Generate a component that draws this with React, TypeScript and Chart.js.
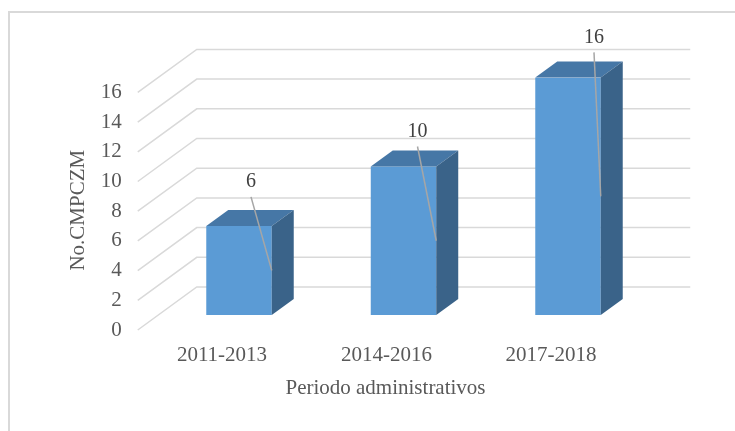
import React, { useEffect, useRef } from "react";
import { Chart, registerables } from "chart.js";

Chart.register(...registerables);

const categories = ["2011-2013", "2014-2016", "2017-2018"];
const values = [6, 10, 16];
const yMin = 0;
const yMax = 16;
const yStep = 2;
const yTitle = "No.CMPCZM";
const xTitle = "Periodo administrativos";

// label placement (style): offset of data label from bar centre / top
const labelShift = [
  [12, -44],
  [14, -35],
  [26, -40],
];

const FONT = "'Liberation Serif', 'Times New Roman', serif";
const TEXT = "#595959";
const GRID = "#D9D9D9";
const FRONT = "#5B9BD5";
const TOP = "#4677A6";
const SIDE = "#3A6389";
const DEPTH_X = 22;
const DEPTH_Y = -16;

const threeD = {
  id: "threeD",
  beforeDatasetsDraw(chart: any) {
    const ctx = chart.ctx;
    const ys = chart.scales.y;
    const area = chart.chartArea;
    ctx.save();
    // outer frame
    ctx.strokeStyle = GRID;
    ctx.lineWidth = 2;
    ctx.beginPath();
    ctx.moveTo(9, 431);
    ctx.lineTo(9, 12);
    ctx.lineTo(735, 12);
    ctx.stroke();
    // back wall grid + floor/side diagonals
    ctx.lineWidth = 1.5;
    ctx.strokeStyle = GRID;
    for (const t of ys.ticks) {
      const yv = ys.getPixelForValue(t.value);
      ctx.beginPath();
      ctx.moveTo(area.left - 19, yv + 15);
      ctx.lineTo(area.left + 40, yv - 28);
      ctx.lineTo(area.right + 40, yv - 28);
      ctx.stroke();
    }
    ctx.restore();
  },
  afterDatasetsDraw(chart: any) {
    const ctx = chart.ctx;
    const meta = chart.getDatasetMeta(0);
    ctx.save();
    meta.data.forEach((bar: any, i: number) => {
      const l = bar.x - bar.width / 2;
      const r = bar.x + bar.width / 2;
      const top = bar.y;
      const base = bar.base;
      // top face
      ctx.fillStyle = TOP;
      ctx.beginPath();
      ctx.moveTo(l, top);
      ctx.lineTo(l + DEPTH_X, top + DEPTH_Y);
      ctx.lineTo(r + DEPTH_X, top + DEPTH_Y);
      ctx.lineTo(r, top);
      ctx.closePath();
      ctx.fill();
      // side face
      ctx.fillStyle = SIDE;
      ctx.beginPath();
      ctx.moveTo(r, top);
      ctx.lineTo(r + DEPTH_X, top + DEPTH_Y);
      ctx.lineTo(r + DEPTH_X, base + DEPTH_Y);
      ctx.lineTo(r, base);
      ctx.closePath();
      ctx.fill();
      // data label + leader line
      const lx = bar.x + labelShift[i][0];
      const ly = top + labelShift[i][1];
      ctx.strokeStyle = "#A6A6A6";
      ctx.lineWidth = 1.5;
      ctx.beginPath();
      ctx.moveTo(lx, ly + 15);
      ctx.lineTo(r, (top + base) / 2);
      ctx.stroke();
      ctx.fillStyle = "#404040";
      ctx.font = `20px ${FONT}`;
      ctx.textAlign = "center";
      ctx.textBaseline = "middle";
      ctx.fillText(String(values[i]), lx, ly);
    });
    // axis titles
    const area = chart.chartArea;
    ctx.fillStyle = TEXT;
    ctx.font = `21px ${FONT}`;
    ctx.textAlign = "center";
    ctx.textBaseline = "middle";
    ctx.fillText(xTitle, (area.left + area.right) / 2 - 18, 388);
    ctx.translate(78, (area.top + area.bottom) / 2 + 14);
    ctx.rotate(-Math.PI / 2);
    ctx.fillText(yTitle, 0, 0);
    ctx.restore();
  },
};

export default function App() {
  const ref = useRef<HTMLCanvasElement | null>(null);
  useEffect(() => {
    if (!ref.current) return;
    const chart = new Chart(ref.current, {
      type: "bar",
      data: {
        labels: categories,
        datasets: [
          {
            data: values,
            backgroundColor: FRONT,
            borderWidth: 0,
            categoryPercentage: 1,
            barPercentage: 0.398,
          },
        ],
      },
      options: {
        responsive: false,
        animation: false,
        events: [],
        layout: { padding: { left: 0, right: 84.75, top: 77.4, bottom: 0 } },
        plugins: {
          legend: { display: false },
          tooltip: { enabled: false },
          title: { display: false },
        },
        scales: {
          x: {
            offset: true,
            grid: { display: false, drawTicks: false },
            border: { display: false },
            ticks: {
              color: TEXT,
              font: { family: FONT, size: 21 },
              padding: 28,
              labelOffset: -17,
              maxRotation: 0,
            },
            afterFit: (s: any) => {
              s.height = 116;
            },
          },
          y: {
            min: yMin,
            max: yMax,
            grid: { display: false, drawTicks: false },
            border: { display: false },
            ticks: {
              stepSize: yStep,
              color: TEXT,
              font: { family: FONT, size: 21 },
              padding: 35,
              labelOffset: 15,
            },
            afterFit: (s: any) => {
              s.width = 156.75;
            },
          },
        },
      },
      plugins: [threeD],
    });
    return () => chart.destroy();
  }, []);
  return (
    <div style={{ position: "fixed", left: 0, top: 0, width: 735, height: 431, background: "#fff" }}>
      <canvas ref={ref} width={735} height={431} style={{ width: 735, height: 431 }} />
    </div>
  );
}
